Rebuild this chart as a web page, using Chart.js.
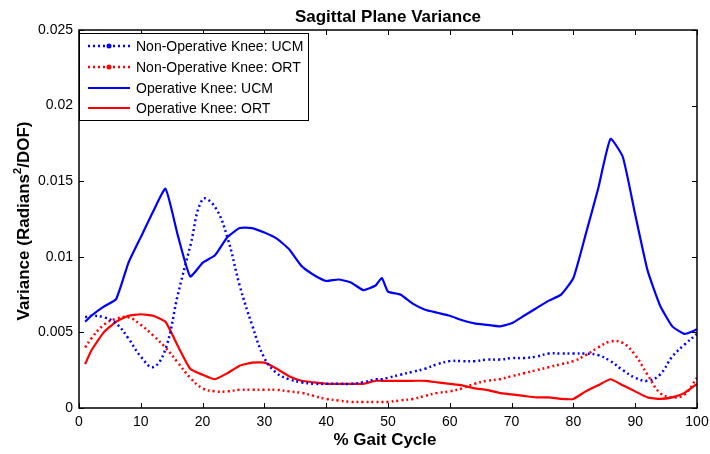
<!DOCTYPE html>
<html>
<head>
<meta charset="utf-8">
<script src="https://cdn.jsdelivr.net/npm/chart.js@4.4.1/dist/chart.umd.min.js"></script>
<style>
  html, body { margin: 0; padding: 0; background: #fff; }
  #wrap { width: 710px; height: 454px; position: relative; }
</style>
</head>
<body>
<div id="wrap"><canvas id="chart" width="710" height="454"></canvas></div>
<script>
// % gait cycle sample points
const gaitPct = [1, 2, 4, 6, 8, 10, 12, 14, 16, 18, 20, 22, 24, 26, 28, 30, 32, 34, 36, 38, 40,
  42, 44, 46, 48, 49, 50, 52, 54, 56, 58, 60, 62, 64, 66, 68, 70, 72, 74, 76, 78, 80,
  82, 84, 86, 88, 90, 92, 94, 96, 98, 100];

const nonOpUCM = [0.0060, 0.0061, 0.0060, 0.0056, 0.0046, 0.0034, 0.0027, 0.0039, 0.0075, 0.0107, 0.0138,
  0.0133, 0.0113, 0.0081, 0.0055, 0.0033, 0.0023, 0.0019, 0.0017, 0.0016, 0.0016,
  0.0016, 0.0016, 0.0017, 0.0019, 0.0019, 0.0020, 0.0022, 0.0024, 0.0026, 0.0029, 0.0031,
  0.0031, 0.0031, 0.0032, 0.0032, 0.0033, 0.0033, 0.0034, 0.0036, 0.0036, 0.0036,
  0.0036, 0.0035, 0.0031, 0.0025, 0.0020, 0.0018, 0.0022, 0.0034, 0.0042, 0.0049];

const nonOpORT = [0.0040, 0.0046, 0.0055, 0.0059, 0.0060, 0.0055, 0.0048, 0.0040, 0.0030, 0.0020, 0.0013,
  0.0011, 0.0011, 0.0012, 0.0012, 0.0012, 0.0012, 0.0011, 0.0010, 0.0008, 0.0006,
  0.0005, 0.0004, 0.0004, 0.0004, 0.0004, 0.0004, 0.0005, 0.0006, 0.0008, 0.0010, 0.0011,
  0.0013, 0.0016, 0.0018, 0.0019, 0.0021, 0.0023, 0.0025, 0.0027, 0.0029, 0.0031,
  0.0035, 0.0040, 0.0044, 0.0043, 0.0035, 0.0022, 0.0010, 0.0007, 0.0009, 0.0020];

const opUCM = [0.0057, 0.0061, 0.0067, 0.0072, 0.0096, 0.0113, 0.0130, 0.0145, 0.0114, 0.0087, 0.0096,
  0.0101, 0.0113, 0.0119, 0.0119, 0.0116, 0.0112, 0.0105, 0.0094, 0.0088, 0.0084,
  0.0085, 0.0083, 0.0078, 0.0081, 0.0086, 0.0077, 0.0075, 0.0069, 0.0065, 0.0063, 0.0061,
  0.0058, 0.0056, 0.0055, 0.0054, 0.0056, 0.0061, 0.0066, 0.0071, 0.0075, 0.0086,
  0.0115, 0.0145, 0.0178, 0.0166, 0.0128, 0.0091, 0.0068, 0.0054, 0.0049, 0.0052];

const opORT = [0.0029, 0.0038, 0.0050, 0.0057, 0.0061, 0.0062, 0.0061, 0.0057, 0.0041, 0.0026, 0.0022,
  0.0019, 0.0023, 0.0028, 0.0030, 0.0030, 0.0026, 0.0021, 0.0018, 0.0017, 0.0016,
  0.0016, 0.0016, 0.0016, 0.0018, 0.0018, 0.0018, 0.0018, 0.0018, 0.0018, 0.0017, 0.0016,
  0.0015, 0.0013, 0.0012, 0.0010, 0.0009, 0.0008, 0.0007, 0.0007, 0.0006, 0.0006,
  0.0011, 0.0015, 0.0019, 0.0015, 0.0011, 0.0007, 0.0006, 0.0007, 0.0010, 0.0016];

const xTicks = [0, 10, 20, 30, 40, 50, 60, 70, 80, 90, 100];
const yTicks = [0, 0.005, 0.01, 0.015, 0.02, 0.025];

const BLUE = '#0000ff';
const RED = '#ff0000';
const FONT = '"Liberation Sans", Arial, sans-serif';

const pts = (ys) => gaitPct.map((x, i) => ({ x: x, y: ys[i] }));

const series = [
  { label: 'Non-Operative Knee: UCM', data: nonOpUCM, color: BLUE, dotted: true },
  { label: 'Non-Operative Knee: ORT', data: nonOpORT, color: RED, dotted: true },
  { label: 'Operative Knee: UCM', data: opUCM, color: BLUE, dotted: false },
  { label: 'Operative Knee: ORT', data: opORT, color: RED, dotted: false },
];

// matlab-ish box, inward ticks, titles and legend
const decor = {
  id: 'decor',
  afterDraw(chart) {
    const { ctx, chartArea: a, scales } = chart;
    ctx.save();
    ctx.strokeStyle = '#000';
    ctx.lineWidth = 1;
    ctx.beginPath();
    xTicks.forEach(t => {
      const px = Math.round(scales.x.getPixelForValue(t)) + 0.5;
      ctx.moveTo(px, a.bottom); ctx.lineTo(px, a.bottom - 5);
      ctx.moveTo(px, a.top); ctx.lineTo(px, a.top + 5);
    });
    yTicks.forEach(t => {
      const py = Math.round(scales.y.getPixelForValue(t)) + 0.5;
      ctx.moveTo(a.left, py); ctx.lineTo(a.left + 5, py);
      ctx.moveTo(a.right, py); ctx.lineTo(a.right - 5, py);
    });
    ctx.stroke();
    ctx.lineWidth = 1.5;
    ctx.strokeRect(a.left, a.top, a.right - a.left, a.bottom - a.top);

    // titles
    ctx.fillStyle = '#000';
    ctx.textAlign = 'center';
    ctx.textBaseline = 'middle';
    ctx.font = 'bold 17px ' + FONT;
    ctx.fillText('Sagittal Plane Variance', (a.left + a.right) / 2, 17);
    ctx.fillText('% Gait Cycle', 385, 440);

    // y title with a real superscript
    ctx.save();
    ctx.translate(24, 221);
    ctx.rotate(-Math.PI / 2);
    const p1 = 'Variance (Radians', p2 = '2', p3 = '/DOF)';
    ctx.font = 'bold 17px ' + FONT;
    const w1 = ctx.measureText(p1).width, w3 = ctx.measureText(p3).width;
    ctx.font = 'bold 11px ' + FONT;
    const w2 = ctx.measureText(p2).width;
    let x0 = -(w1 + w2 + w3) / 2;
    ctx.textAlign = 'left';
    ctx.font = 'bold 17px ' + FONT;
    ctx.fillText(p1, x0, 0);
    ctx.font = 'bold 11px ' + FONT;
    ctx.fillText(p2, x0 + w1, -6);
    ctx.font = 'bold 17px ' + FONT;
    ctx.fillText(p3, x0 + w1 + w2, 0);
    ctx.restore();

    // legend
    const lx = a.left, ly = 33, lw = 229, lh = 87;
    ctx.fillStyle = '#fff';
    ctx.fillRect(lx, ly, lw, lh);
    ctx.lineWidth = 1;
    ctx.strokeStyle = '#000';
    ctx.strokeRect(lx + 0.5, ly + 0.5, lw, lh);
    const rows = [46, 67, 88, 108];
    series.forEach((s, i) => {
      const y = rows[i];
      ctx.strokeStyle = s.color;
      ctx.lineWidth = s.dotted ? 2.5 : 2;
      ctx.setLineDash(s.dotted ? [2, 3] : []);
      ctx.beginPath();
      ctx.moveTo(88, y); ctx.lineTo(130, y);
      ctx.stroke();
      ctx.setLineDash([]);
      if (s.dotted) {
        ctx.fillStyle = s.color;
        ctx.beginPath();
        ctx.arc(109, y, 2.5, 0, Math.PI * 2);
        ctx.fill();
      }
      ctx.fillStyle = '#000';
      ctx.textAlign = 'left';
      ctx.font = '14px ' + FONT;
      ctx.fillText(s.label, 136, y + 1);
    });
    ctx.restore();
  }
};

new Chart(document.getElementById('chart'), {
  type: 'line',
  data: {
    datasets: series.map(s => ({
      label: s.label,
      data: pts(s.data),
      borderColor: s.color,
      backgroundColor: s.color,
      borderWidth: s.dotted ? 2.5 : 2.2,
      borderDash: s.dotted ? [2, 3] : [],
      pointRadius: 0,
      tension: s.dotted ? 0.4 : 0.15,
      fill: false,
    }))
  },
  options: {
    responsive: false,
    animation: false,
    layout: { padding: { left: 0, right: 13, top: 30, bottom: 0 } },
    plugins: { legend: { display: false }, title: { display: false }, tooltip: { enabled: false } },
    scales: {
      x: {
        type: 'linear',
        min: 0, max: 100,
        afterFit(scale) {
          scale.height = 46;
          scale.paddingLeft = 0;
          scale.paddingRight = 0;
        },
        afterBuildTicks(scale) { scale.ticks = xTicks.map(v => ({ value: v })); },
        grid: { display: false, drawTicks: false },
        border: { display: false },
        ticks: { color: '#000', padding: 6, font: { family: FONT, size: 14 } }
      },
      y: {
        min: 0, max: 0.025,
        afterFit(scale) {
          scale.width = 79;
          scale.paddingTop = 0;
          scale.paddingBottom = 0;
        },
        afterBuildTicks(scale) { scale.ticks = yTicks.map(v => ({ value: v })); },
        grid: { display: false, drawTicks: false },
        border: { display: false },
        ticks: {
          color: '#000', padding: 6, font: { family: FONT, size: 14 },
          callback: v => String(Math.round(v * 1000) / 1000)
        }
      }
    }
  },
  plugins: [decor]
});
</script>
</body>
</html>
